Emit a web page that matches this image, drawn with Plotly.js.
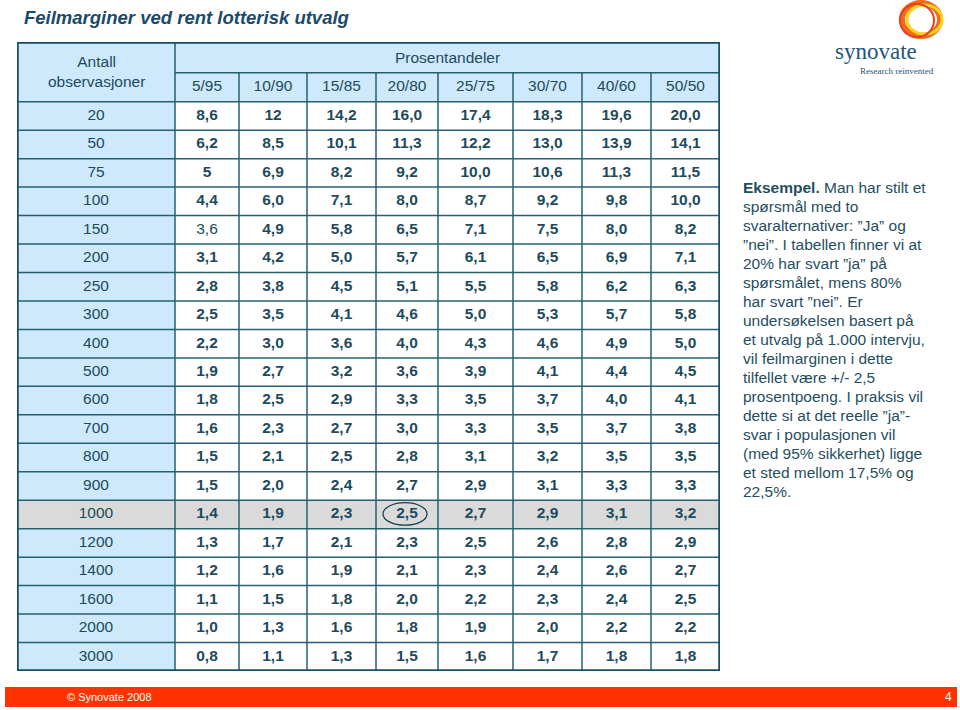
<!DOCTYPE html>
<html>
<head>
<meta charset="utf-8">
<script src="https://cdn.plot.ly/plotly-3.0.1.min.js"></script>
<style>
html,body{margin:0;padding:0;background:#fff;}
#chart{width:960px;height:710px;}
</style>
</head>
<body>
<div id="chart"></div>
<script>
// ---------- DATA ----------
const title = 'Feilmarginer ved rent lotterisk utvalg';
const rowHeader = 'Antall<br>observasjoner';
const groupHeader = 'Prosentandeler';
const observations = ['20','50','75','100','150','200','250','300','400','500','600','700','800','900','1000','1200','1400','1600','2000','3000'];
const shares = ['5/95','10/90','15/85','20/80','25/75','30/70','40/60','50/50'];
const p5_95  = ['8,6','6,2','5','4,4','3,6','3,1','2,8','2,5','2,2','1,9','1,8','1,6','1,5','1,5','1,4','1,3','1,2','1,1','1,0','0,8'];
const p10_90 = ['12','8,5','6,9','6,0','4,9','4,2','3,8','3,5','3,0','2,7','2,5','2,3','2,1','2,0','1,9','1,7','1,6','1,5','1,3','1,1'];
const p15_85 = ['14,2','10,1','8,2','7,1','5,8','5,0','4,5','4,1','3,6','3,2','2,9','2,7','2,5','2,4','2,3','2,1','1,9','1,8','1,6','1,3'];
const p20_80 = ['16,0','11,3','9,2','8,0','6,5','5,7','5,1','4,6','4,0','3,6','3,3','3,0','2,8','2,7','2,5','2,3','2,1','2,0','1,8','1,5'];
const p25_75 = ['17,4','12,2','10,0','8,7','7,1','6,1','5,5','5,0','4,3','3,9','3,5','3,3','3,1','2,9','2,7','2,5','2,3','2,2','1,9','1,6'];
const p30_70 = ['18,3','13,0','10,6','9,2','7,5','6,5','5,8','5,3','4,6','4,1','3,7','3,5','3,2','3,1','2,9','2,6','2,4','2,3','2,0','1,7'];
const p40_60 = ['19,6','13,9','11,3','9,8','8,0','6,9','6,2','5,7','4,9','4,4','4,0','3,7','3,5','3,3','3,1','2,8','2,6','2,4','2,2','1,8'];
const p50_50 = ['20,0','14,1','11,5','10,0','8,2','7,1','6,3','5,8','5,0','4,5','4,1','3,8','3,5','3,3','3,2','2,9','2,7','2,5','2,2','1,8'];
const highlightRow = '1000';
const highlightShare = '20/80';
const plainCell = ['150','5/95'];
const exampleLines = [
 '<b>Eksempel.</b> Man har stilt et',
 'spørsmål med to',
 'svaralternativer: ”Ja” og',
 '”nei”. I tabellen finner vi at',
 '20% har svart ”ja” på',
 'spørsmålet, mens 80%',
 'har svart ”nei”. Er',
 'undersøkelsen basert på',
 'et utvalg på 1.000 intervju,',
 'vil feilmarginen i dette',
 'tilfellet være +/- 2,5',
 'prosentpoeng. I praksis vil',
 'dette si at det reelle ”ja”-',
 'svar i populasjonen vil',
 '(med 95% sikkerhet) ligge',
 'et sted mellom 17,5% og',
 '22,5%.'
];
const footerText = '© Synovate 2008';
const pageNo = '4';

// ---------- LAYOUT CONFIG ----------
const columns = [p5_95,p10_90,p15_85,p20_80,p25_75,p30_70,p40_60,p50_50];
const colW = [158,64,68,69,62,75,69,69,69];
const headH = [30.7,29];
const rowH = 28.45;
const W = 960, H = 710;
const tbl = {x0:17, x1:720, y0:42, y1:671};
const TEXT = '#1d4b5c';
const GRID = '#24606f';
const FONT = 'Liberation Sans, Arial, sans-serif';
const FS = 15.5;

const xE = [0]; colW.forEach(w => xE.push(xE[xE.length-1]+w));
const yE = [0]; headH.forEach(h => yE.push(yE[yE.length-1]+h));
observations.forEach(() => yE.push(yE[yE.length-1]+rowH));
const totW = xE[xE.length-1], totH = yE[yE.length-1];
const xc = i => (xE[i]+xE[i+1])/2;
const yc = i => (yE[i]+yE[i+1])/2;

// fill matrix: 0 header blue, 1 white, 2 grey highlight
const z = [];
for (let r=0;r<2;r++) z.push(colW.map(()=>0));
observations.forEach(o => {
  const hl = o===highlightRow;
  z.push(colW.map((_,c)=> hl ? 2 : (c===0 ? 0 : 1)));
});

const heat = {
  type:'heatmap', x:xE, y:yE, z:z, zmin:0, zmax:2, showscale:false, hoverinfo:'skip',
  colorscale:[[0,'#cde9fb'],[0.25,'#cde9fb'],[0.25,'#ffffff'],[0.75,'#ffffff'],[0.75,'#dadada'],[1,'#dadada']]
};

// values text
const vx=[], vy=[], vt=[];
observations.forEach((o,r) => {
  columns.forEach((col,c) => {
    vx.push(xc(c+1)); vy.push(yc(r+2));
    const plain = (o===plainCell[0] && shares[c]===plainCell[1]);
    vt.push(plain ? col[r] : '<b>'+col[r]+'</b>');
  });
});
const valTrace = {type:'scatter', mode:'text', x:vx, y:vy, text:vt, hoverinfo:'skip',
  textfont:{family:FONT, size:FS, color:TEXT}, textposition:'middle center'};

const rowTrace = {type:'scatter', mode:'text', x:observations.map(()=>xc(0)),
  y:observations.map((_,r)=>yc(r+2)), text:observations, hoverinfo:'skip',
  textfont:{family:FONT, size:FS, color:TEXT}, textposition:'middle center'};

const shareTrace = {type:'scatter', mode:'text', x:shares.map((_,c)=>xc(c+1)),
  y:shares.map(()=>yc(1)), text:shares, hoverinfo:'skip',
  textfont:{family:FONT, size:FS, color:TEXT}, textposition:'middle center'};

// grid shapes
const shapes = [];
const ln = (x0,y0,x1,y1,w,c) => shapes.push({type:'line', xref:'x', yref:'y', x0,y0,x1,y1, line:{color:c||GRID, width:w||1.5}});
ln(xE[1],0,xE[1],totH);
for (let i=2;i<xE.length-1;i++) ln(xE[i],yE[1],xE[i],totH);
ln(xE[1],yE[1],totW,yE[1]);
for (let j=2;j<yE.length-1;j++) ln(0,yE[j],totW,yE[j]);
shapes.push({type:'rect', xref:'x', yref:'y', x0:0, y0:0, x1:totW, y1:totH, line:{color:'#1b4f63', width:3.5}});
// highlight ellipse
const hr = observations.indexOf(highlightRow)+2, hc = shares.indexOf(highlightShare)+1;
shapes.push({type:'circle', xref:'x', yref:'y', x0:xE[hc]+7, x1:xE[hc+1]-11, y0:yE[hr]+2.5, y1:yE[hr+1]-3.5, line:{color:'#1a3f4d', width:1.3}});
// footer bar
shapes.push({type:'rect', xref:'paper', yref:'paper', x0:5/W, x1:957/W, y0:(H-707)/H, y1:(H-687)/H, fillcolor:'#ff3300', line:{width:0}});
// logo ring
shapes.push({type:'circle', xref:'paper', yref:'paper', x0:902/W, x1:940/W, y0:(H-36)/H, y1:(H-3)/H, line:{color:'#f26a1b', width:6}});
shapes.push({type:'circle', xref:'paper', yref:'paper', x0:907/W, x1:942/W, y0:(H-34)/H, y1:(H-5)/H, line:{color:'#ffd21a', width:3}});
shapes.push({type:'circle', xref:'paper', yref:'paper', x0:900/W, x1:934/W, y0:(H-37)/H, y1:(H-4)/H, line:{color:'#e8401c', width:2}});

const annotations = [
  {xref:'paper', yref:'paper', x:22/W, y:(H-18)/H, xanchor:'left', yanchor:'middle', showarrow:false,
   text:'<b><i>'+title+'</i></b>', font:{family:FONT, size:18.5, color:'#1b4a6a'}},
  {xref:'x', yref:'y', x:xc(0), y:(yE[0]+yE[2])/2, showarrow:false, text:rowHeader,
   font:{family:FONT, size:FS, color:TEXT}},
  {xref:'x', yref:'y', x:(xE[1]+totW)/2, y:yc(0), showarrow:false, text:groupHeader,
   font:{family:FONT, size:FS, color:TEXT}},
  {xref:'paper', yref:'paper', x:65/W, y:(H-697)/H, xanchor:'left', yanchor:'middle', showarrow:false,
   text:footerText, font:{family:FONT, size:11, color:'#ffffff'}},
  {xref:'paper', yref:'paper', x:954/W, y:(H-697)/H, xanchor:'right', yanchor:'middle', showarrow:false,
   text:pageNo, font:{family:FONT, size:12, color:'#ffffff'}},
  {xref:'paper', yref:'paper', x:876/W, y:(H-51)/H, xanchor:'center', yanchor:'middle', showarrow:false,
   text:'synovate', font:{family:'Liberation Serif, serif', size:23, color:'#1f5577'}},
  {xref:'paper', yref:'paper', x:897/W, y:(H-71)/H, xanchor:'center', yanchor:'middle', showarrow:false,
   text:'Research reinvented', font:{family:'Liberation Serif, serif', size:9, color:'#1f5577'}}
];
// example text, one line per annotation
exampleLines.forEach((t,i) => annotations.push({
  xref:'paper', yref:'paper', x:741/W, y:(H-(187+i*19.06))/H, xanchor:'left', yanchor:'middle',
  align:'left', showarrow:false, text:t, font:{family:FONT, size:15.5, color:'#1f4e5e'}
}));

const layout = {
  width:W, height:H, margin:{l:0,r:0,t:0,b:0}, showlegend:false,
  paper_bgcolor:'#ffffff', plot_bgcolor:'#ffffff',
  xaxis:{domain:[tbl.x0/W, tbl.x1/W], range:[0,totW], visible:false, fixedrange:true},
  yaxis:{domain:[(H-tbl.y1)/H, (H-tbl.y0)/H], range:[totH,0], visible:false, fixedrange:true},
  shapes:shapes, annotations:annotations
};

Plotly.newPlot('chart', [heat, valTrace, rowTrace, shareTrace], layout, {staticPlot:true});
</script>
</body>
</html>
